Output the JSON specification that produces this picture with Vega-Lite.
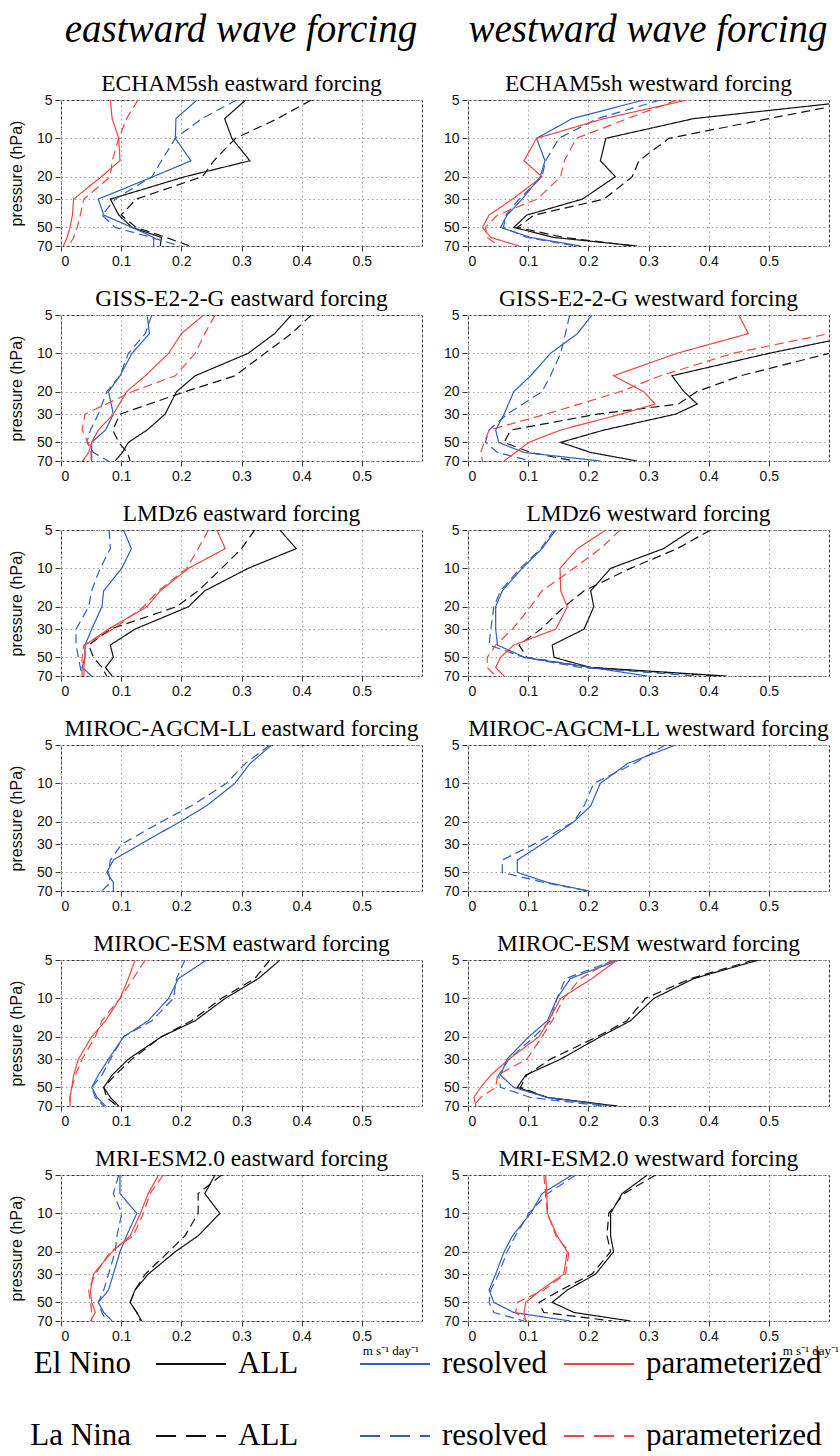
{
"$schema": "https://vega.github.io/schema/vega-lite/v6.json",
"background": "white",
"padding": {"left": 8, "top": 11, "right": 2, "bottom": 0},
"config": {
"font": "Liberation Sans",
"view": {"stroke": "#333333", "strokeDash": [3, 2], "strokeWidth": 1},
"axis": {"grid": true, "gridColor": "#a0a0a0", "gridDash": [1.5, 3], "gridWidth": 1, "domain": false, "tickColor": "#333333", "tickSize": 5, "labelFont": "Liberation Sans", "labelFontSize": 14, "labelColor": "#111111", "labelPadding": 3, "titleFont": "Liberation Sans", "titleFontSize": 16, "titleFontWeight": "normal", "titleColor": "#111111", "titlePadding": 12},
"header": {"titleFont": "Liberation Serif", "titleFontStyle": "italic", "titleFontSize": 39, "titleFontWeight": "normal", "titleColor": "black", "titlePadding": 21, "labelFont": "Liberation Serif", "labelFontSize": 23.5, "labelColor": "black", "labelPadding": 5}
},
"datasets": {
"east": [
{"m":"E5","k":"AN","p":5,"v":0.307},{"m":"E5","k":"AN","p":7,"v":0.272},{"m":"E5","k":"AN","p":10,"v":0.284},{"m":"E5","k":"AN","p":15,"v":0.314},{"m":"E5","k":"AN","p":20,"v":0.206},{"m":"E5","k":"AN","p":30,"v":0.082},{"m":"E5","k":"AN","p":40,"v":0.096},{"m":"E5","k":"AN","p":50,"v":0.118},{"m":"E5","k":"AN","p":60,"v":0.167},{"m":"E5","k":"AN","p":70,"v":0.165},
{"m":"E5","k":"AL","p":5,"v":0.416},{"m":"E5","k":"AL","p":7,"v":0.36},{"m":"E5","k":"AL","p":10,"v":0.29},{"m":"E5","k":"AL","p":15,"v":0.254},{"m":"E5","k":"AL","p":20,"v":0.235},{"m":"E5","k":"AL","p":30,"v":0.125},{"m":"E5","k":"AL","p":40,"v":0.1},{"m":"E5","k":"AL","p":50,"v":0.125},{"m":"E5","k":"AL","p":60,"v":0.175},{"m":"E5","k":"AL","p":70,"v":0.214},
{"m":"E5","k":"RN","p":5,"v":0.226},{"m":"E5","k":"RN","p":7,"v":0.191},{"m":"E5","k":"RN","p":10,"v":0.19},{"m":"E5","k":"RN","p":15,"v":0.216},{"m":"E5","k":"RN","p":20,"v":0.153},{"m":"E5","k":"RN","p":30,"v":0.062},{"m":"E5","k":"RN","p":40,"v":0.071},{"m":"E5","k":"RN","p":50,"v":0.118},{"m":"E5","k":"RN","p":60,"v":0.154},{"m":"E5","k":"RN","p":70,"v":0.154},
{"m":"E5","k":"RL","p":5,"v":0.292},{"m":"E5","k":"RL","p":7,"v":0.234},{"m":"E5","k":"RL","p":10,"v":0.19},{"m":"E5","k":"RL","p":15,"v":0.167},{"m":"E5","k":"RL","p":20,"v":0.151},{"m":"E5","k":"RL","p":30,"v":0.09},{"m":"E5","k":"RL","p":40,"v":0.068},{"m":"E5","k":"RL","p":50,"v":0.09},{"m":"E5","k":"RL","p":60,"v":0.15},{"m":"E5","k":"RL","p":70,"v":0.198},
{"m":"E5","k":"PN","p":5,"v":0.082},{"m":"E5","k":"PN","p":7,"v":0.085},{"m":"E5","k":"PN","p":10,"v":0.096},{"m":"E5","k":"PN","p":15,"v":0.098},{"m":"E5","k":"PN","p":20,"v":0.067},{"m":"E5","k":"PN","p":30,"v":0.021},{"m":"E5","k":"PN","p":40,"v":0.019},{"m":"E5","k":"PN","p":50,"v":0.015},{"m":"E5","k":"PN","p":60,"v":0.01},{"m":"E5","k":"PN","p":70,"v":0.004},
{"m":"E5","k":"PL","p":5,"v":0.128},{"m":"E5","k":"PL","p":7,"v":0.109},{"m":"E5","k":"PL","p":10,"v":0.096},{"m":"E5","k":"PL","p":15,"v":0.085},{"m":"E5","k":"PL","p":20,"v":0.082},{"m":"E5","k":"PL","p":30,"v":0.038},{"m":"E5","k":"PL","p":40,"v":0.032},{"m":"E5","k":"PL","p":50,"v":0.027},{"m":"E5","k":"PL","p":60,"v":0.021},{"m":"E5","k":"PL","p":70,"v":0.013},
{"m":"GI","k":"AN","p":5,"v":0.383},{"m":"GI","k":"AN","p":7,"v":0.355},{"m":"GI","k":"AN","p":10,"v":0.311},{"m":"GI","k":"AN","p":15,"v":0.223},{"m":"GI","k":"AN","p":20,"v":0.192},{"m":"GI","k":"AN","p":30,"v":0.173},{"m":"GI","k":"AN","p":40,"v":0.143},{"m":"GI","k":"AN","p":50,"v":0.112},{"m":"GI","k":"AN","p":60,"v":0.102},{"m":"GI","k":"AN","p":70,"v":0.09},
{"m":"GI","k":"AL","p":5,"v":0.416},{"m":"GI","k":"AL","p":7,"v":0.383},{"m":"GI","k":"AL","p":10,"v":0.339},{"m":"GI","k":"AL","p":15,"v":0.289},{"m":"GI","k":"AL","p":20,"v":0.206},{"m":"GI","k":"AL","p":30,"v":0.098},{"m":"GI","k":"AL","p":40,"v":0.086},{"m":"GI","k":"AL","p":50,"v":0.096},{"m":"GI","k":"AL","p":60,"v":0.11},{"m":"GI","k":"AL","p":70,"v":0.115},
{"m":"GI","k":"RN","p":5,"v":0.143},{"m":"GI","k":"RN","p":7,"v":0.147},{"m":"GI","k":"RN","p":10,"v":0.118},{"m":"GI","k":"RN","p":15,"v":0.098},{"m":"GI","k":"RN","p":20,"v":0.079},{"m":"GI","k":"RN","p":30,"v":0.087},{"m":"GI","k":"RN","p":40,"v":0.074},{"m":"GI","k":"RN","p":50,"v":0.051},{"m":"GI","k":"RN","p":60,"v":0.051},{"m":"GI","k":"RN","p":70,"v":0.051},
{"m":"GI","k":"RL","p":5,"v":0.151},{"m":"GI","k":"RL","p":7,"v":0.14},{"m":"GI","k":"RL","p":10,"v":0.112},{"m":"GI","k":"RL","p":15,"v":0.098},{"m":"GI","k":"RL","p":20,"v":0.076},{"m":"GI","k":"RL","p":30,"v":0.062},{"m":"GI","k":"RL","p":40,"v":0.049},{"m":"GI","k":"RL","p":50,"v":0.043},{"m":"GI","k":"RL","p":60,"v":0.054},{"m":"GI","k":"RL","p":70,"v":0.079},
{"m":"GI","k":"PN","p":5,"v":0.237},{"m":"GI","k":"PN","p":7,"v":0.2},{"m":"GI","k":"PN","p":10,"v":0.179},{"m":"GI","k":"PN","p":15,"v":0.14},{"m":"GI","k":"PN","p":20,"v":0.109},{"m":"GI","k":"PN","p":30,"v":0.087},{"m":"GI","k":"PN","p":40,"v":0.062},{"m":"GI","k":"PN","p":50,"v":0.051},{"m":"GI","k":"PN","p":60,"v":0.046},{"m":"GI","k":"PN","p":70,"v":0.036},
{"m":"GI","k":"PL","p":5,"v":0.256},{"m":"GI","k":"PL","p":7,"v":0.239},{"m":"GI","k":"PL","p":10,"v":0.223},{"m":"GI","k":"PL","p":15,"v":0.19},{"m":"GI","k":"PL","p":20,"v":0.118},{"m":"GI","k":"PL","p":30,"v":0.04},{"m":"GI","k":"PL","p":40,"v":0.035},{"m":"GI","k":"PL","p":50,"v":0.045},{"m":"GI","k":"PL","p":60,"v":0.05},{"m":"GI","k":"PL","p":70,"v":0.05},
{"m":"LM","k":"AN","p":5,"v":0.364},{"m":"LM","k":"AN","p":7,"v":0.391},{"m":"LM","k":"AN","p":10,"v":0.311},{"m":"LM","k":"AN","p":15,"v":0.239},{"m":"LM","k":"AN","p":20,"v":0.212},{"m":"LM","k":"AN","p":30,"v":0.123},{"m":"LM","k":"AN","p":40,"v":0.082},{"m":"LM","k":"AN","p":50,"v":0.087},{"m":"LM","k":"AN","p":60,"v":0.074},{"m":"LM","k":"AN","p":70,"v":0.085},
{"m":"LM","k":"AL","p":5,"v":0.322},{"m":"LM","k":"AL","p":7,"v":0.3},{"m":"LM","k":"AL","p":10,"v":0.267},{"m":"LM","k":"AL","p":15,"v":0.228},{"m":"LM","k":"AL","p":20,"v":0.192},{"m":"LM","k":"AL","p":30,"v":0.082},{"m":"LM","k":"AL","p":40,"v":0.046},{"m":"LM","k":"AL","p":50,"v":0.054},{"m":"LM","k":"AL","p":60,"v":0.068},{"m":"LM","k":"AL","p":70,"v":0.076},
{"m":"LM","k":"RN","p":5,"v":0.104},{"m":"LM","k":"RN","p":7,"v":0.117},{"m":"LM","k":"RN","p":10,"v":0.101},{"m":"LM","k":"RN","p":15,"v":0.071},{"m":"LM","k":"RN","p":20,"v":0.068},{"m":"LM","k":"RN","p":30,"v":0.051},{"m":"LM","k":"RN","p":40,"v":0.04},{"m":"LM","k":"RN","p":50,"v":0.04},{"m":"LM","k":"RN","p":60,"v":0.035},{"m":"LM","k":"RN","p":70,"v":0.051},
{"m":"LM","k":"RL","p":5,"v":0.08},{"m":"LM","k":"RL","p":7,"v":0.082},{"m":"LM","k":"RL","p":10,"v":0.065},{"m":"LM","k":"RL","p":15,"v":0.051},{"m":"LM","k":"RL","p":20,"v":0.046},{"m":"LM","k":"RL","p":30,"v":0.025},{"m":"LM","k":"RL","p":40,"v":0.025},{"m":"LM","k":"RL","p":50,"v":0.029},{"m":"LM","k":"RL","p":60,"v":0.032},{"m":"LM","k":"RL","p":70,"v":0.035},
{"m":"LM","k":"PN","p":5,"v":0.259},{"m":"LM","k":"PN","p":7,"v":0.273},{"m":"LM","k":"PN","p":10,"v":0.212},{"m":"LM","k":"PN","p":15,"v":0.165},{"m":"LM","k":"PN","p":20,"v":0.143},{"m":"LM","k":"PN","p":30,"v":0.079},{"m":"LM","k":"PN","p":40,"v":0.04},{"m":"LM","k":"PN","p":50,"v":0.04},{"m":"LM","k":"PN","p":60,"v":0.038},{"m":"LM","k":"PN","p":70,"v":0.038},
{"m":"LM","k":"PL","p":5,"v":0.245},{"m":"LM","k":"PL","p":7,"v":0.228},{"m":"LM","k":"PL","p":10,"v":0.209},{"m":"LM","k":"PL","p":15,"v":0.162},{"m":"LM","k":"PL","p":20,"v":0.137},{"m":"LM","k":"PL","p":30,"v":0.087},{"m":"LM","k":"PL","p":40,"v":0.038},{"m":"LM","k":"PL","p":50,"v":0.035},{"m":"LM","k":"PL","p":60,"v":0.035},{"m":"LM","k":"PL","p":70,"v":0.035},
{"m":"MA","k":"RN","p":5,"v":0.35},{"m":"MA","k":"RN","p":7,"v":0.314},{"m":"MA","k":"RN","p":10,"v":0.289},{"m":"MA","k":"RN","p":15,"v":0.242},{"m":"MA","k":"RN","p":20,"v":0.198},{"m":"MA","k":"RN","p":30,"v":0.132},{"m":"MA","k":"RN","p":40,"v":0.087},{"m":"MA","k":"RN","p":50,"v":0.076},{"m":"MA","k":"RN","p":60,"v":0.087},{"m":"MA","k":"RN","p":70,"v":0.087},
{"m":"MA","k":"RL","p":5,"v":0.347},{"m":"MA","k":"RL","p":7,"v":0.306},{"m":"MA","k":"RL","p":10,"v":0.275},{"m":"MA","k":"RL","p":15,"v":0.217},{"m":"MA","k":"RL","p":20,"v":0.167},{"m":"MA","k":"RL","p":30,"v":0.101},{"m":"MA","k":"RL","p":40,"v":0.082},{"m":"MA","k":"RL","p":50,"v":0.079},{"m":"MA","k":"RL","p":60,"v":0.082},{"m":"MA","k":"RL","p":70,"v":0.068},
{"m":"ME","k":"AN","p":5,"v":0.364},{"m":"ME","k":"AN","p":7,"v":0.328},{"m":"ME","k":"AN","p":10,"v":0.273},{"m":"ME","k":"AN","p":15,"v":0.223},{"m":"ME","k":"AN","p":20,"v":0.167},{"m":"ME","k":"AN","p":30,"v":0.112},{"m":"ME","k":"AN","p":40,"v":0.085},{"m":"ME","k":"AN","p":50,"v":0.071},{"m":"ME","k":"AN","p":60,"v":0.082},{"m":"ME","k":"AN","p":70,"v":0.096},
{"m":"ME","k":"AL","p":5,"v":0.347},{"m":"ME","k":"AL","p":7,"v":0.322},{"m":"ME","k":"AL","p":10,"v":0.267},{"m":"ME","k":"AL","p":15,"v":0.217},{"m":"ME","k":"AL","p":20,"v":0.167},{"m":"ME","k":"AL","p":30,"v":0.118},{"m":"ME","k":"AL","p":40,"v":0.09},{"m":"ME","k":"AL","p":50,"v":0.071},{"m":"ME","k":"AL","p":60,"v":0.076},{"m":"ME","k":"AL","p":70,"v":0.093},
{"m":"ME","k":"RN","p":5,"v":0.242},{"m":"ME","k":"RN","p":7,"v":0.195},{"m":"ME","k":"RN","p":10,"v":0.179},{"m":"ME","k":"RN","p":15,"v":0.145},{"m":"ME","k":"RN","p":20,"v":0.104},{"m":"ME","k":"RN","p":30,"v":0.079},{"m":"ME","k":"RN","p":40,"v":0.062},{"m":"ME","k":"RN","p":50,"v":0.051},{"m":"ME","k":"RN","p":60,"v":0.06},{"m":"ME","k":"RN","p":70,"v":0.074},
{"m":"ME","k":"RL","p":5,"v":0.206},{"m":"ME","k":"RL","p":7,"v":0.192},{"m":"ME","k":"RL","p":10,"v":0.187},{"m":"ME","k":"RL","p":15,"v":0.151},{"m":"ME","k":"RL","p":20,"v":0.104},{"m":"ME","k":"RL","p":30,"v":0.082},{"m":"ME","k":"RL","p":40,"v":0.068},{"m":"ME","k":"RL","p":50,"v":0.051},{"m":"ME","k":"RL","p":60,"v":0.057},{"m":"ME","k":"RL","p":70,"v":0.071},
{"m":"ME","k":"PN","p":5,"v":0.123},{"m":"ME","k":"PN","p":7,"v":0.112},{"m":"ME","k":"PN","p":10,"v":0.098},{"m":"ME","k":"PN","p":15,"v":0.074},{"m":"ME","k":"PN","p":20,"v":0.051},{"m":"ME","k":"PN","p":30,"v":0.029},{"m":"ME","k":"PN","p":40,"v":0.021},{"m":"ME","k":"PN","p":50,"v":0.018},{"m":"ME","k":"PN","p":60,"v":0.015},{"m":"ME","k":"PN","p":70,"v":0.015},
{"m":"ME","k":"PL","p":5,"v":0.14},{"m":"ME","k":"PL","p":7,"v":0.12},{"m":"ME","k":"PL","p":10,"v":0.098},{"m":"ME","k":"PL","p":15,"v":0.068},{"m":"ME","k":"PL","p":20,"v":0.057},{"m":"ME","k":"PL","p":30,"v":0.035},{"m":"ME","k":"PL","p":40,"v":0.024},{"m":"ME","k":"PL","p":50,"v":0.018},{"m":"ME","k":"PL","p":60,"v":0.015},{"m":"ME","k":"PL","p":70,"v":0.015},
{"m":"MR","k":"AN","p":5,"v":0.256},{"m":"MR","k":"AN","p":7,"v":0.239},{"m":"MR","k":"AN","p":10,"v":0.264},{"m":"MR","k":"AN","p":15,"v":0.228},{"m":"MR","k":"AN","p":20,"v":0.19},{"m":"MR","k":"AN","p":30,"v":0.145},{"m":"MR","k":"AN","p":40,"v":0.123},{"m":"MR","k":"AN","p":50,"v":0.115},{"m":"MR","k":"AN","p":60,"v":0.126},{"m":"MR","k":"AN","p":70,"v":0.134},
{"m":"MR","k":"AL","p":5,"v":0.267},{"m":"MR","k":"AL","p":7,"v":0.228},{"m":"MR","k":"AL","p":10,"v":0.228},{"m":"MR","k":"AL","p":15,"v":0.206},{"m":"MR","k":"AL","p":20,"v":0.179},{"m":"MR","k":"AL","p":30,"v":0.14},{"m":"MR","k":"AL","p":40,"v":0.123},{"m":"MR","k":"AL","p":50,"v":0.115},{"m":"MR","k":"AL","p":60,"v":0.126},{"m":"MR","k":"AL","p":70,"v":0.132},
{"m":"MR","k":"RN","p":5,"v":0.098},{"m":"MR","k":"RN","p":7,"v":0.098},{"m":"MR","k":"RN","p":10,"v":0.126},{"m":"MR","k":"RN","p":15,"v":0.109},{"m":"MR","k":"RN","p":20,"v":0.098},{"m":"MR","k":"RN","p":30,"v":0.087},{"m":"MR","k":"RN","p":40,"v":0.079},{"m":"MR","k":"RN","p":50,"v":0.062},{"m":"MR","k":"RN","p":60,"v":0.071},{"m":"MR","k":"RN","p":70,"v":0.085},
{"m":"MR","k":"RL","p":5,"v":0.096},{"m":"MR","k":"RL","p":7,"v":0.087},{"m":"MR","k":"RL","p":10,"v":0.101},{"m":"MR","k":"RL","p":15,"v":0.093},{"m":"MR","k":"RL","p":20,"v":0.09},{"m":"MR","k":"RL","p":30,"v":0.079},{"m":"MR","k":"RL","p":40,"v":0.071},{"m":"MR","k":"RL","p":50,"v":0.062},{"m":"MR","k":"RL","p":60,"v":0.068},{"m":"MR","k":"RL","p":70,"v":0.076},
{"m":"MR","k":"PN","p":5,"v":0.162},{"m":"MR","k":"PN","p":7,"v":0.145},{"m":"MR","k":"PN","p":10,"v":0.132},{"m":"MR","k":"PN","p":15,"v":0.115},{"m":"MR","k":"PN","p":20,"v":0.085},{"m":"MR","k":"PN","p":30,"v":0.054},{"m":"MR","k":"PN","p":40,"v":0.049},{"m":"MR","k":"PN","p":50,"v":0.051},{"m":"MR","k":"PN","p":60,"v":0.057},{"m":"MR","k":"PN","p":70,"v":0.049},
{"m":"MR","k":"PL","p":5,"v":0.17},{"m":"MR","k":"PL","p":7,"v":0.148},{"m":"MR","k":"PL","p":10,"v":0.137},{"m":"MR","k":"PL","p":15,"v":0.12},{"m":"MR","k":"PL","p":20,"v":0.082},{"m":"MR","k":"PL","p":30,"v":0.057},{"m":"MR","k":"PL","p":40,"v":0.046},{"m":"MR","k":"PL","p":50,"v":0.049},{"m":"MR","k":"PL","p":60,"v":0.051},{"m":"MR","k":"PL","p":70,"v":0.051}
],
"west": [
{"m":"E5","k":"AN","p":5,"v":0.66},{"m":"E5","k":"AN","p":7,"v":0.375},{"m":"E5","k":"AN","p":10,"v":0.229},{"m":"E5","k":"AN","p":15,"v":0.22},{"m":"E5","k":"AN","p":20,"v":0.245},{"m":"E5","k":"AN","p":30,"v":0.19},{"m":"E5","k":"AN","p":40,"v":0.098},{"m":"E5","k":"AN","p":50,"v":0.076},{"m":"E5","k":"AN","p":60,"v":0.143},{"m":"E5","k":"AN","p":70,"v":0.281},
{"m":"E5","k":"AL","p":5,"v":0.66},{"m":"E5","k":"AL","p":7,"v":0.5},{"m":"E5","k":"AL","p":10,"v":0.334},{"m":"E5","k":"AL","p":15,"v":0.284},{"m":"E5","k":"AL","p":20,"v":0.273},{"m":"E5","k":"AL","p":30,"v":0.226},{"m":"E5","k":"AL","p":40,"v":0.11},{"m":"E5","k":"AL","p":50,"v":0.082},{"m":"E5","k":"AL","p":60,"v":0.16},{"m":"E5","k":"AL","p":70,"v":0.276},
{"m":"E5","k":"RN","p":5,"v":0.292},{"m":"E5","k":"RN","p":7,"v":0.173},{"m":"E5","k":"RN","p":10,"v":0.114},{"m":"E5","k":"RN","p":15,"v":0.128},{"m":"E5","k":"RN","p":20,"v":0.12},{"m":"E5","k":"RN","p":30,"v":0.09},{"m":"E5","k":"RN","p":40,"v":0.065},{"m":"E5","k":"RN","p":50,"v":0.054},{"m":"E5","k":"RN","p":60,"v":0.104},{"m":"E5","k":"RN","p":70,"v":0.187},
{"m":"E5","k":"RL","p":5,"v":0.32},{"m":"E5","k":"RL","p":7,"v":0.215},{"m":"E5","k":"RL","p":10,"v":0.151},{"m":"E5","k":"RL","p":15,"v":0.129},{"m":"E5","k":"RL","p":20,"v":0.123},{"m":"E5","k":"RL","p":30,"v":0.085},{"m":"E5","k":"RL","p":40,"v":0.063},{"m":"E5","k":"RL","p":50,"v":0.059},{"m":"E5","k":"RL","p":60,"v":0.098},{"m":"E5","k":"RL","p":70,"v":0.18},
{"m":"E5","k":"PN","p":5,"v":0.364},{"m":"E5","k":"PN","p":7,"v":0.226},{"m":"E5","k":"PN","p":10,"v":0.114},{"m":"E5","k":"PN","p":15,"v":0.093},{"m":"E5","k":"PN","p":20,"v":0.123},{"m":"E5","k":"PN","p":30,"v":0.074},{"m":"E5","k":"PN","p":40,"v":0.035},{"m":"E5","k":"PN","p":50,"v":0.024},{"m":"E5","k":"PN","p":60,"v":0.038},{"m":"E5","k":"PN","p":70,"v":0.085},
{"m":"E5","k":"PL","p":5,"v":0.347},{"m":"E5","k":"PL","p":7,"v":0.265},{"m":"E5","k":"PL","p":10,"v":0.18},{"m":"E5","k":"PL","p":15,"v":0.16},{"m":"E5","k":"PL","p":20,"v":0.154},{"m":"E5","k":"PL","p":30,"v":0.115},{"m":"E5","k":"PL","p":40,"v":0.049},{"m":"E5","k":"PL","p":50,"v":0.029},{"m":"E5","k":"PL","p":60,"v":0.032},{"m":"E5","k":"PL","p":70,"v":0.051},
{"m":"GI","k":"AN","p":5,"v":0.72},{"m":"GI","k":"AN","p":7,"v":0.66},{"m":"GI","k":"AN","p":10,"v":0.5},{"m":"GI","k":"AN","p":15,"v":0.339},{"m":"GI","k":"AN","p":20,"v":0.359},{"m":"GI","k":"AN","p":25,"v":0.381},{"m":"GI","k":"AN","p":30,"v":0.345},{"m":"GI","k":"AN","p":40,"v":0.226},{"m":"GI","k":"AN","p":50,"v":0.154},{"m":"GI","k":"AN","p":60,"v":0.204},{"m":"GI","k":"AN","p":70,"v":0.281},
{"m":"GI","k":"AL","p":5,"v":0.78},{"m":"GI","k":"AL","p":7,"v":0.7},{"m":"GI","k":"AL","p":10,"v":0.6},{"m":"GI","k":"AL","p":15,"v":0.453},{"m":"GI","k":"AL","p":20,"v":0.38},{"m":"GI","k":"AL","p":25,"v":0.35},{"m":"GI","k":"AL","p":30,"v":0.215},{"m":"GI","k":"AL","p":40,"v":0.071},{"m":"GI","k":"AL","p":50,"v":0.06},{"m":"GI","k":"AL","p":60,"v":0.104},{"m":"GI","k":"AL","p":70,"v":0.176},
{"m":"GI","k":"RN","p":5,"v":0.206},{"m":"GI","k":"RN","p":7,"v":0.182},{"m":"GI","k":"RN","p":10,"v":0.137},{"m":"GI","k":"RN","p":15,"v":0.104},{"m":"GI","k":"RN","p":20,"v":0.076},{"m":"GI","k":"RN","p":30,"v":0.06},{"m":"GI","k":"RN","p":40,"v":0.046},{"m":"GI","k":"RN","p":50,"v":0.051},{"m":"GI","k":"RN","p":60,"v":0.093},{"m":"GI","k":"RN","p":70,"v":0.22},
{"m":"GI","k":"RL","p":5,"v":0.169},{"m":"GI","k":"RL","p":7,"v":0.162},{"m":"GI","k":"RL","p":10,"v":0.154},{"m":"GI","k":"RL","p":15,"v":0.137},{"m":"GI","k":"RL","p":20,"v":0.123},{"m":"GI","k":"RL","p":30,"v":0.065},{"m":"GI","k":"RL","p":40,"v":0.035},{"m":"GI","k":"RL","p":50,"v":0.029},{"m":"GI","k":"RL","p":60,"v":0.049},{"m":"GI","k":"RL","p":70,"v":0.104},
{"m":"GI","k":"PN","p":5,"v":0.45},{"m":"GI","k":"PN","p":7,"v":0.466},{"m":"GI","k":"PN","p":10,"v":0.347},{"m":"GI","k":"PN","p":15,"v":0.242},{"m":"GI","k":"PN","p":20,"v":0.292},{"m":"GI","k":"PN","p":25,"v":0.311},{"m":"GI","k":"PN","p":30,"v":0.254},{"m":"GI","k":"PN","p":40,"v":0.154},{"m":"GI","k":"PN","p":50,"v":0.101},{"m":"GI","k":"PN","p":60,"v":0.079},{"m":"GI","k":"PN","p":70,"v":0.06},
{"m":"GI","k":"PL","p":5,"v":0.68},{"m":"GI","k":"PL","p":7,"v":0.6},{"m":"GI","k":"PL","p":10,"v":0.44},{"m":"GI","k":"PL","p":15,"v":0.32},{"m":"GI","k":"PL","p":20,"v":0.253},{"m":"GI","k":"PL","p":30,"v":0.13},{"m":"GI","k":"PL","p":40,"v":0.035},{"m":"GI","k":"PL","p":50,"v":0.027},{"m":"GI","k":"PL","p":60,"v":0.021},{"m":"GI","k":"PL","p":70,"v":0.024},
{"m":"LM","k":"AN","p":5,"v":0.372},{"m":"LM","k":"AN","p":7,"v":0.325},{"m":"LM","k":"AN","p":10,"v":0.237},{"m":"LM","k":"AN","p":15,"v":0.204},{"m":"LM","k":"AN","p":20,"v":0.209},{"m":"LM","k":"AN","p":30,"v":0.193},{"m":"LM","k":"AN","p":40,"v":0.14},{"m":"LM","k":"AN","p":50,"v":0.143},{"m":"LM","k":"AN","p":60,"v":0.204},{"m":"LM","k":"AN","p":70,"v":0.43},
{"m":"LM","k":"AL","p":5,"v":0.403},{"m":"LM","k":"AL","p":7,"v":0.348},{"m":"LM","k":"AL","p":10,"v":0.27},{"m":"LM","k":"AL","p":15,"v":0.193},{"m":"LM","k":"AL","p":20,"v":0.16},{"m":"LM","k":"AL","p":30,"v":0.121},{"m":"LM","k":"AL","p":40,"v":0.085},{"m":"LM","k":"AL","p":50,"v":0.098},{"m":"LM","k":"AL","p":60,"v":0.204},{"m":"LM","k":"AL","p":70,"v":0.414},
{"m":"LM","k":"RN","p":5,"v":0.146},{"m":"LM","k":"RN","p":7,"v":0.123},{"m":"LM","k":"RN","p":10,"v":0.09},{"m":"LM","k":"RN","p":15,"v":0.057},{"m":"LM","k":"RN","p":20,"v":0.046},{"m":"LM","k":"RN","p":30,"v":0.046},{"m":"LM","k":"RN","p":40,"v":0.049},{"m":"LM","k":"RN","p":50,"v":0.094},{"m":"LM","k":"RN","p":60,"v":0.204},{"m":"LM","k":"RN","p":70,"v":0.298},
{"m":"LM","k":"RL","p":5,"v":0.143},{"m":"LM","k":"RL","p":7,"v":0.121},{"m":"LM","k":"RL","p":10,"v":0.087},{"m":"LM","k":"RL","p":15,"v":0.054},{"m":"LM","k":"RL","p":20,"v":0.043},{"m":"LM","k":"RL","p":30,"v":0.038},{"m":"LM","k":"RL","p":40,"v":0.035},{"m":"LM","k":"RL","p":50,"v":0.093},{"m":"LM","k":"RL","p":60,"v":0.187},{"m":"LM","k":"RL","p":70,"v":0.38},
{"m":"LM","k":"PN","p":5,"v":0.229},{"m":"LM","k":"PN","p":7,"v":0.182},{"m":"LM","k":"PN","p":10,"v":0.153},{"m":"LM","k":"PN","p":15,"v":0.154},{"m":"LM","k":"PN","p":20,"v":0.165},{"m":"LM","k":"PN","p":30,"v":0.146},{"m":"LM","k":"PN","p":40,"v":0.076},{"m":"LM","k":"PN","p":50,"v":0.054},{"m":"LM","k":"PN","p":60,"v":0.046},{"m":"LM","k":"PN","p":70,"v":0.06},
{"m":"LM","k":"PL","p":5,"v":0.253},{"m":"LM","k":"PL","p":7,"v":0.22},{"m":"LM","k":"PL","p":10,"v":0.176},{"m":"LM","k":"PL","p":15,"v":0.123},{"m":"LM","k":"PL","p":20,"v":0.104},{"m":"LM","k":"PL","p":30,"v":0.074},{"m":"LM","k":"PL","p":40,"v":0.046},{"m":"LM","k":"PL","p":50,"v":0.032},{"m":"LM","k":"PL","p":60,"v":0.032},{"m":"LM","k":"PL","p":70,"v":0.046},
{"m":"MA","k":"RN","p":5,"v":0.345},{"m":"MA","k":"RN","p":7,"v":0.265},{"m":"MA","k":"RN","p":10,"v":0.22},{"m":"MA","k":"RN","p":15,"v":0.204},{"m":"MA","k":"RN","p":20,"v":0.176},{"m":"MA","k":"RN","p":30,"v":0.123},{"m":"MA","k":"RN","p":40,"v":0.082},{"m":"MA","k":"RN","p":50,"v":0.082},{"m":"MA","k":"RN","p":60,"v":0.132},{"m":"MA","k":"RN","p":70,"v":0.201},
{"m":"MA","k":"RL","p":5,"v":0.328},{"m":"MA","k":"RL","p":7,"v":0.276},{"m":"MA","k":"RL","p":10,"v":0.209},{"m":"MA","k":"RL","p":15,"v":0.193},{"m":"MA","k":"RL","p":20,"v":0.176},{"m":"MA","k":"RL","p":30,"v":0.11},{"m":"MA","k":"RL","p":40,"v":0.057},{"m":"MA","k":"RL","p":50,"v":0.057},{"m":"MA","k":"RL","p":60,"v":0.126},{"m":"MA","k":"RL","p":70,"v":0.2},
{"m":"ME","k":"AN","p":5,"v":0.483},{"m":"ME","k":"AN","p":7,"v":0.375},{"m":"ME","k":"AN","p":10,"v":0.309},{"m":"ME","k":"AN","p":15,"v":0.27},{"m":"ME","k":"AN","p":20,"v":0.22},{"m":"ME","k":"AN","p":30,"v":0.154},{"m":"ME","k":"AN","p":40,"v":0.096},{"m":"ME","k":"AN","p":50,"v":0.082},{"m":"ME","k":"AN","p":60,"v":0.132},{"m":"ME","k":"AN","p":70,"v":0.248},
{"m":"ME","k":"AL","p":5,"v":0.475},{"m":"ME","k":"AL","p":7,"v":0.37},{"m":"ME","k":"AL","p":10,"v":0.295},{"m":"ME","k":"AL","p":15,"v":0.264},{"m":"ME","k":"AL","p":20,"v":0.215},{"m":"ME","k":"AL","p":30,"v":0.137},{"m":"ME","k":"AL","p":40,"v":0.098},{"m":"ME","k":"AL","p":50,"v":0.087},{"m":"ME","k":"AL","p":60,"v":0.132},{"m":"ME","k":"AL","p":70,"v":0.242},
{"m":"ME","k":"RN","p":5,"v":0.251},{"m":"ME","k":"RN","p":7,"v":0.17},{"m":"ME","k":"RN","p":10,"v":0.148},{"m":"ME","k":"RN","p":15,"v":0.132},{"m":"ME","k":"RN","p":20,"v":0.101},{"m":"ME","k":"RN","p":30,"v":0.065},{"m":"ME","k":"RN","p":40,"v":0.054},{"m":"ME","k":"RN","p":50,"v":0.076},{"m":"ME","k":"RN","p":60,"v":0.132},{"m":"ME","k":"RN","p":70,"v":0.237},
{"m":"ME","k":"RL","p":5,"v":0.245},{"m":"ME","k":"RL","p":7,"v":0.162},{"m":"ME","k":"RL","p":10,"v":0.148},{"m":"ME","k":"RL","p":15,"v":0.137},{"m":"ME","k":"RL","p":20,"v":0.11},{"m":"ME","k":"RL","p":30,"v":0.068},{"m":"ME","k":"RL","p":40,"v":0.051},{"m":"ME","k":"RL","p":50,"v":0.054},{"m":"ME","k":"RL","p":60,"v":0.104},{"m":"ME","k":"RL","p":70,"v":0.226},
{"m":"ME","k":"PN","p":5,"v":0.248},{"m":"ME","k":"PN","p":7,"v":0.206},{"m":"ME","k":"PN","p":10,"v":0.154},{"m":"ME","k":"PN","p":15,"v":0.134},{"m":"ME","k":"PN","p":20,"v":0.118},{"m":"ME","k":"PN","p":30,"v":0.068},{"m":"ME","k":"PN","p":40,"v":0.038},{"m":"ME","k":"PN","p":50,"v":0.021},{"m":"ME","k":"PN","p":60,"v":0.01},{"m":"ME","k":"PN","p":70,"v":0.013},
{"m":"ME","k":"PL","p":5,"v":0.24},{"m":"ME","k":"PL","p":7,"v":0.187},{"m":"ME","k":"PL","p":10,"v":0.159},{"m":"ME","k":"PL","p":15,"v":0.14},{"m":"ME","k":"PL","p":20,"v":0.123},{"m":"ME","k":"PL","p":30,"v":0.098},{"m":"ME","k":"PL","p":40,"v":0.049},{"m":"ME","k":"PL","p":50,"v":0.046},{"m":"ME","k":"PL","p":60,"v":0.021},{"m":"ME","k":"PL","p":70,"v":0.01},
{"m":"MR","k":"AN","p":5,"v":0.298},{"m":"MR","k":"AN","p":7,"v":0.256},{"m":"MR","k":"AN","p":10,"v":0.237},{"m":"MR","k":"AN","p":15,"v":0.237},{"m":"MR","k":"AN","p":20,"v":0.242},{"m":"MR","k":"AN","p":30,"v":0.212},{"m":"MR","k":"AN","p":40,"v":0.165},{"m":"MR","k":"AN","p":50,"v":0.14},{"m":"MR","k":"AN","p":60,"v":0.176},{"m":"MR","k":"AN","p":70,"v":0.27},
{"m":"MR","k":"AL","p":5,"v":0.312},{"m":"MR","k":"AL","p":7,"v":0.259},{"m":"MR","k":"AL","p":10,"v":0.234},{"m":"MR","k":"AL","p":15,"v":0.231},{"m":"MR","k":"AL","p":20,"v":0.237},{"m":"MR","k":"AL","p":30,"v":0.206},{"m":"MR","k":"AL","p":40,"v":0.154},{"m":"MR","k":"AL","p":50,"v":0.118},{"m":"MR","k":"AL","p":60,"v":0.126},{"m":"MR","k":"AL","p":70,"v":0.24},
{"m":"MR","k":"RN","p":5,"v":0.173},{"m":"MR","k":"RN","p":7,"v":0.123},{"m":"MR","k":"RN","p":10,"v":0.104},{"m":"MR","k":"RN","p":15,"v":0.074},{"m":"MR","k":"RN","p":20,"v":0.06},{"m":"MR","k":"RN","p":30,"v":0.046},{"m":"MR","k":"RN","p":40,"v":0.035},{"m":"MR","k":"RN","p":50,"v":0.043},{"m":"MR","k":"RN","p":60,"v":0.076},{"m":"MR","k":"RN","p":70,"v":0.17},
{"m":"MR","k":"RL","p":5,"v":0.179},{"m":"MR","k":"RL","p":7,"v":0.132},{"m":"MR","k":"RL","p":10,"v":0.101},{"m":"MR","k":"RL","p":15,"v":0.079},{"m":"MR","k":"RL","p":20,"v":0.065},{"m":"MR","k":"RL","p":30,"v":0.051},{"m":"MR","k":"RL","p":40,"v":0.038},{"m":"MR","k":"RL","p":50,"v":0.035},{"m":"MR","k":"RL","p":60,"v":0.043},{"m":"MR","k":"RL","p":70,"v":0.093},
{"m":"MR","k":"PN","p":5,"v":0.129},{"m":"MR","k":"PN","p":7,"v":0.131},{"m":"MR","k":"PN","p":10,"v":0.132},{"m":"MR","k":"PN","p":15,"v":0.148},{"m":"MR","k":"PN","p":20,"v":0.165},{"m":"MR","k":"PN","p":30,"v":0.159},{"m":"MR","k":"PN","p":40,"v":0.121},{"m":"MR","k":"PN","p":50,"v":0.096},{"m":"MR","k":"PN","p":60,"v":0.093},{"m":"MR","k":"PN","p":70,"v":0.096},
{"m":"MR","k":"PL","p":5,"v":0.126},{"m":"MR","k":"PL","p":7,"v":0.129},{"m":"MR","k":"PL","p":10,"v":0.132},{"m":"MR","k":"PL","p":15,"v":0.146},{"m":"MR","k":"PL","p":20,"v":0.168},{"m":"MR","k":"PL","p":30,"v":0.162},{"m":"MR","k":"PL","p":40,"v":0.126},{"m":"MR","k":"PL","p":50,"v":0.082},{"m":"MR","k":"PL","p":60,"v":0.079},{"m":"MR","k":"PL","p":70,"v":0.098}
],
"legend": [
{"k":"AN","f":"El Nino","s":"ALL"},{"k":"RN","f":"El Nino","s":"resolved"},{"k":"PN","f":"El Nino","s":"parameterized"},
{"k":"AL","f":"La Nina","s":"ALL"},{"k":"RL","f":"La Nina","s":"resolved"},{"k":"PL","f":"La Nina","s":"parameterized"}
]
},
"resolve": {"scale": {"color": "independent", "strokeDash": "independent"}},
"spacing": 0,
"vconcat": [
{
"hconcat": [
{
"data": {"name": "east"},
"columns": 1,
"spacing": 17,
"facet": {"field": "m", "type": "nominal", "sort": ["E5","GI","LM","MA","ME","MR"], "header": {"title": "eastward wave forcing", "labelExpr": "{'E5':'ECHAM5sh','GI':'GISS-E2-2-G','LM':'LMDz6','MA':'MIROC-AGCM-LL','ME':'MIROC-ESM','MR':'MRI-ESM2.0'}[datum.value] + ' eastward forcing'"}},
"spec": {
"width": 361, "height": 146,
"mark": {"type": "line", "strokeWidth": 1.2, "clip": true},
"encoding": {
"x": {"field": "v", "type": "quantitative", "scale": {"domain": [0, 0.6], "nice": false, "zero": false}, "axis": {"values": [0, 0.1, 0.2, 0.3, 0.4, 0.5], "format": "~g", "title": null}},
"y": {"field": "p", "type": "quantitative", "scale": {"type": "log", "domain": [5, 70], "reverse": true, "nice": false}, "axis": {"values": [5, 10, 20, 30, 50, 70], "format": "~g", "title": "pressure (hPa)"}},
"color": {"field": "k", "type": "nominal", "scale": {"domain": ["AN","AL","RN","RL","PN","PL"], "range": ["#111111","#111111","#2e5ec2","#2e5ec2","#f2453f","#f2453f"]}, "legend": null},
"strokeDash": {"field": "k", "type": "nominal", "scale": {"domain": ["AN","AL","RN","RL","PN","PL"], "range": [[1,0],[9,5],[1,0],[9,5],[1,0],[9,5]]}, "legend": null},
"order": {"field": "p", "type": "quantitative"}
}
},
"resolve": {"axis": {"x": "independent"}}
},
{
"data": {"name": "west"},
"columns": 1,
"spacing": 17,
"facet": {"field": "m", "type": "nominal", "sort": ["E5","GI","LM","MA","ME","MR"], "header": {"title": "westward wave forcing", "labelExpr": "{'E5':'ECHAM5sh','GI':'GISS-E2-2-G','LM':'LMDz6','MA':'MIROC-AGCM-LL','ME':'MIROC-ESM','MR':'MRI-ESM2.0'}[datum.value] + ' westward forcing'"}},
"spec": {
"width": 361, "height": 146,
"mark": {"type": "line", "strokeWidth": 1.2, "clip": true},
"encoding": {
"x": {"field": "v", "type": "quantitative", "scale": {"domain": [0, 0.6], "nice": false, "zero": false}, "axis": {"values": [0, 0.1, 0.2, 0.3, 0.4, 0.5], "format": "~g", "title": null}},
"y": {"field": "p", "type": "quantitative", "scale": {"type": "log", "domain": [5, 70], "reverse": true, "nice": false}, "axis": {"values": [5, 10, 20, 30, 50, 70], "format": "~g", "title": null}},
"color": {"field": "k", "type": "nominal", "scale": {"domain": ["AN","AL","RN","RL","PN","PL"], "range": ["#111111","#111111","#2e5ec2","#2e5ec2","#f2453f","#f2453f"]}, "legend": null},
"strokeDash": {"field": "k", "type": "nominal", "scale": {"domain": ["AN","AL","RN","RL","PN","PL"], "range": [[1,0],[9,5],[1,0],[9,5],[1,0],[9,5]]}, "legend": null},
"order": {"field": "p", "type": "quantitative"}
}
},
"resolve": {"axis": {"x": "independent"}}
}
],
"spacing": 20
},
{
"vconcat": [
{
"hconcat": [
{"width": 358, "height": 1, "data": {"values": [{}]}, "mark": {"type": "point", "opacity": 0}, "view": {"stroke": null}, "title": {"text": "m s⁻¹ day⁻¹", "anchor": "end", "font": "Liberation Serif", "fontSize": 13, "fontWeight": "normal", "color": "black", "offset": 2}},
{"width": 420, "height": 1, "data": {"values": [{}]}, "mark": {"type": "point", "opacity": 0}, "view": {"stroke": null}, "title": {"text": "m s⁻¹ day⁻¹", "anchor": "end", "font": "Liberation Serif", "fontSize": 13, "fontWeight": "normal", "color": "black", "offset": 2}}
],
"spacing": 0
},
{
"width": 598, "height": 72,
"view": {"stroke": null},
"data": {"name": "legend"},
"encoding": {
"x": {"field": "s", "type": "nominal", "scale": {"type": "point", "domain": ["ALL","resolved","parameterized"], "padding": 0.466}, "axis": null},
"y": {"field": "f", "type": "nominal", "scale": {"type": "point", "domain": ["El Nino","La Nina"], "padding": 0}, "axis": null}
},
"layer": [
{"mark": {"type": "rule", "strokeWidth": 2, "x2Offset": 70}, "encoding": {"x2": {"field": "s"}, "color": {"field": "k", "type": "nominal", "scale": {"domain": ["AN","AL","RN","RL","PN","PL"], "range": ["#111111","#111111","#2e5ec2","#2e5ec2","#f2453f","#f2453f"]}, "legend": null}, "strokeDash": {"field": "k", "type": "nominal", "scale": {"domain": ["AN","AL","RN","RL","PN","PL"], "range": [[1,0],[20,10],[1,0],[20,10],[1,0],[20,10]]}, "legend": null}}},
{"mark": {"type": "text", "align": "left", "dx": 82, "font": "Liberation Serif", "fontSize": 31, "color": "black"}, "encoding": {"text": {"field": "s"}}},
{"transform": [{"filter": "datum.s == 'ALL'"}], "mark": {"type": "text", "align": "right", "dx": -25, "font": "Liberation Serif", "fontSize": 31, "color": "black"}, "encoding": {"text": {"field": "f"}}}
]
}
],
"bounds": "flush",
"spacing": 2
}
]
}
